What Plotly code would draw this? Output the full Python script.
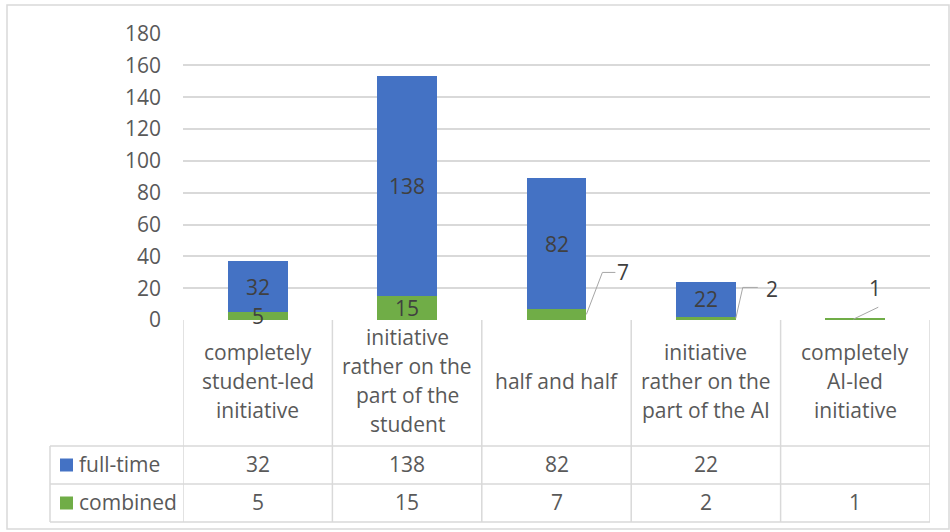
import plotly.graph_objects as go

# ---------------- data ----------------
categories = [
    "completely\nstudent-led\ninitiative",
    "initiative\nrather on the\npart of the\nstudent",
    "half and half",
    "initiative\nrather on the\npart of the AI",
    "completely\nAI-led\ninitiative",
]
series_names = ["full-time", "combined"]
full_time = [32, 138, 82, 22, None]
combined = [5, 15, 7, 2, 1]
y_ticks = [0, 20, 40, 60, 80, 100, 120, 140, 160, 180]

# ---------------- style / layout config ----------------
W, H = 950, 532
BLUE, GREEN = "#4472C4", "#70AD47"
GRID = "#d9d9d9"
TXT = "#595959"
LBL = "#404040"
FONT = "Open Sans"
FS = 21

def px(x):
    return x / W

def py(y):
    return 1 - y / H

PLOT_L, PLOT_R = 183, 930
Y0_PX, YTOP_PX = 320, 33.5
TABLE_L = 50
ROW_HDR_BOTTOM, ROW1_BOTTOM, ROW2_BOTTOM = 446, 484, 522
BAR_W = 0.4
# callout offsets (pixels) for combined labels shown outside the bar
callouts = {
    2: dict(edge=True, path=[(0, 0), (16, 42), (29, 42)], shift=(37, 42)),
    3: dict(edge=True, path=[(0, 0), (7, 31), (22, 31)], shift=(36, 29)),
    4: dict(edge=False, path=[(-2, 0), (23, 12)], shift=(20, 31)),
}

xs = list(range(len(categories)))

fig = go.Figure()
fig.add_trace(go.Bar(x=xs, y=combined, name=series_names[1], marker=dict(color=GREEN, line=dict(width=0)),
                     width=BAR_W, hoverinfo="skip"))
fig.add_trace(go.Bar(x=xs, y=[v if v is not None else 0 for v in full_time], name=series_names[0],
                     marker=dict(color=BLUE, line=dict(width=0)), width=BAR_W, hoverinfo="skip"))

annotations = []
shapes = []

def note(**kw):
    d = dict(showarrow=False, xanchor="center", yanchor="middle")
    d.update(kw)
    annotations.append(d)

# data labels
for i in xs:
    c = combined[i]
    f = full_time[i]
    if f is not None:
        note(x=i, y=c + f / 2, xref="x", yref="y", text=str(f), font=dict(family=FONT, size=FS, color=LBL))
    if i in callouts:
        co = callouts[i]
        ax = i + (BAR_W / 2 if co["edge"] else 0)
        pts = co["path"]
        path = "M" + " L".join(f"{a},{b}" for a, b in pts)
        shapes.append(dict(type="path", xref="x", yref="y", xsizemode="pixel", ysizemode="pixel",
                           xanchor=ax, yanchor=c / 2, path=path,
                           line=dict(color="#a6a6a6", width=1)))
        note(x=ax, y=c / 2, xref="x", yref="y", text=str(c), xshift=co["shift"][0], yshift=co["shift"][1],
             font=dict(family=FONT, size=FS, color=LBL))
    else:
        note(x=i, y=c / 2, xref="x", yref="y", text=str(c), font=dict(family=FONT, size=FS, color=LBL))

# table lines
line_style = dict(color=GRID, width=1.5)
for k in range(len(categories) + 1):
    shapes.append(dict(type="line", xref="x", yref="paper", x0=k - 0.5, x1=k - 0.5,
                       y0=py(Y0_PX), y1=py(ROW2_BOTTOM), line=line_style))
shapes.append(dict(type="line", xref="paper", yref="paper", x0=px(TABLE_L), x1=px(TABLE_L),
                   y0=py(ROW_HDR_BOTTOM), y1=py(ROW2_BOTTOM), line=line_style))
for yy in (ROW_HDR_BOTTOM, ROW1_BOTTOM, ROW2_BOTTOM):
    shapes.append(dict(type="line", xref="paper", yref="paper", x0=px(TABLE_L), x1=px(PLOT_R),
                       y0=py(yy), y1=py(yy), line=line_style))
# outer border
shapes.append(dict(type="rect", xref="paper", yref="paper", x0=px(7), x1=px(949), y0=py(529), y1=py(5),
                   line=dict(color=GRID, width=1.5), layer="below"))

# header labels
LINE_SP = 29
hdr_center = 380.5
for i, cat in enumerate(categories):
    lines = cat.split("\n")
    n = len(lines)
    for j, ln in enumerate(lines):
        yc = hdr_center + (j - (n - 1) / 2) * LINE_SP
        note(x=i, y=py(yc), xref="x", yref="paper", text=ln, font=dict(family=FONT, size=FS, color=TXT))

# data rows
rows = [(full_time, BLUE, series_names[0]), (combined, GREEN, series_names[1])]
row_bounds = [(ROW_HDR_BOTTOM, ROW1_BOTTOM), (ROW1_BOTTOM, ROW2_BOTTOM)]
for (vals, col, name), (t, b) in zip(rows, row_bounds):
    yc = (t + b) / 2
    shapes.append(dict(type="rect", xref="paper", yref="paper", x0=px(60), x1=px(73),
                       y0=py(yc + 6.5), y1=py(yc - 6.5), fillcolor=col, line=dict(width=0)))
    note(x=px(77), y=py(yc - 1), xref="paper", yref="paper", text=name, xanchor="left",
         font=dict(family=FONT, size=FS, color=TXT))
    for i, v in enumerate(vals):
        note(x=i, y=py(yc - 1), xref="x", yref="paper", text="" if v is None else str(v),
             font=dict(family=FONT, size=FS, color=TXT))

fig.update_layout(
    width=W, height=H,
    margin=dict(l=0, r=0, t=0, b=0, autoexpand=False),
    paper_bgcolor="white", plot_bgcolor="white",
    barmode="stack", showlegend=False,
    xaxis=dict(domain=[px(PLOT_L), px(PLOT_R)], range=[-0.5, len(categories) - 0.5], automargin=False,
               showticklabels=False, showgrid=False, zeroline=False, showline=False, ticks=""),
    yaxis=dict(domain=[py(Y0_PX), py(YTOP_PX)], range=[0, 180], tickvals=y_ticks, automargin=False,
               showgrid=True, gridcolor=GRID, gridwidth=1.5, zeroline=False, showline=False,
               tickfont=dict(family=FONT, size=FS, color=TXT), ticklabelstandoff=21),
    shapes=shapes, annotations=annotations,
)

fig.write_html("out.html")
